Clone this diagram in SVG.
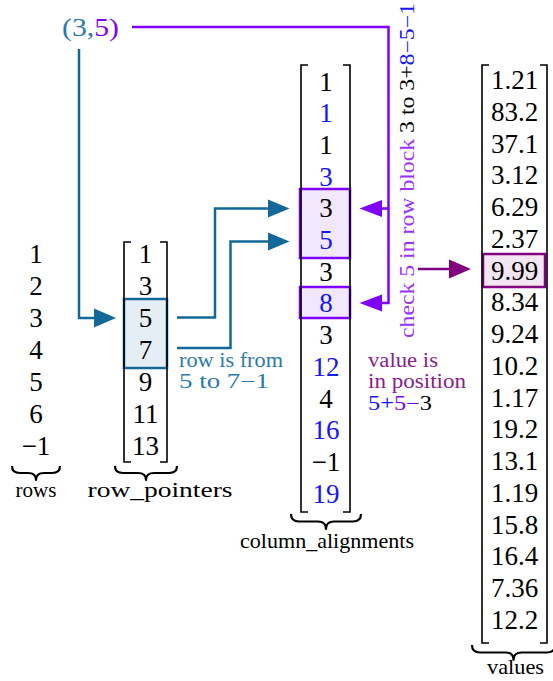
<svg xmlns="http://www.w3.org/2000/svg" width="553" height="681" viewBox="0 0 553 681" font-family="'Liberation Serif', 'DejaVu Serif', 'Noto Serif', serif">
<style>
text{font-family:'Liberation Serif','DejaVu Serif',serif}
.n{font-size:27px;text-anchor:middle;fill:#000}
.b{fill:#1414ff}
.lab{font-size:21px;text-anchor:middle;fill:#000}
.ann{font-size:20px}
.br{fill:none;stroke:#000;stroke-width:1.6}
.brace{fill:none;stroke:#000;stroke-width:2.2;stroke-linejoin:round}
.teal{fill:none;stroke:#136899;stroke-width:2.5}
.vio{fill:none;stroke:#8000ff;stroke-width:2.5}
.pur{fill:none;stroke:#800080;stroke-width:2.5}
</style>
<rect width="553" height="681" fill="#fff"/>

<g id="pair">
<text x="62" y="36" font-size="26px" textLength="57" lengthAdjust="spacingAndGlyphs"><tspan fill="#2a7aaa">(3,</tspan><tspan fill="#8000ff">5)</tspan></text>
</g>

<g id="rows">
<text class="n" x="36" y="263">1</text>
<text class="n" x="36" y="295">2</text>
<text class="n" x="36" y="327">3</text>
<text class="n" x="36" y="359">4</text>
<text class="n" x="36" y="391">5</text>
<text class="n" x="36" y="423">6</text>
<text class="n" x="36" y="455">−1</text>
<path class="brace" d="M12,466 Q12,473 20,473 L28,473 Q36,473 36,480 Q36,473 44,473 L52,473 Q60,473 60,466"/>
<text class="lab" x="36" y="497" textLength="41" lengthAdjust="spacingAndGlyphs">rows</text>
</g>

<g id="row_pointers">
<rect x="124" y="299" width="43" height="69" fill="#e6eef5" stroke="#136899" stroke-width="2.5"/>
<path class="br" d="M131,242 H124 V462 H131 M160,242 H167 V462 H160"/>
<text class="n" x="145.5" y="263">1</text>
<text class="n" x="145.5" y="295">3</text>
<text class="n" x="145.5" y="327">5</text>
<text class="n" x="145.5" y="359">7</text>
<text class="n" x="145.5" y="391">9</text>
<text class="n" x="145.5" y="423">11</text>
<text class="n" x="145.5" y="455">13</text>
<path class="brace" d="M115,466 Q115,473 123,473 L138,473 Q146,473 146,480 Q146,473 154,473 L169,473 Q177,473 177,466"/>
<text class="lab" x="160" y="497" textLength="145" lengthAdjust="spacingAndGlyphs">row_pointers</text>
</g>

<g id="column_alignments">
<rect x="300" y="189" width="50" height="69" fill="#f2e8fd" stroke="#8000ff" stroke-width="2.5"/>
<rect x="300" y="287" width="50" height="31" fill="#f2e8fd" stroke="#8000ff" stroke-width="2.5"/>
<path class="br" d="M308,65 H301 V512 H308 M343,65 H350 V512 H343"/>
<text class="n" x="326" y="90.5">1</text>
<text class="n b" x="326" y="122.2">1</text>
<text class="n" x="326" y="153.9">1</text>
<text class="n b" x="326" y="185.6">3</text>
<text class="n" x="326" y="217.3">3</text>
<text class="n b" x="326" y="249">5</text>
<text class="n" x="326" y="280.7">3</text>
<text class="n b" x="326" y="312.4">8</text>
<text class="n" x="326" y="344.1">3</text>
<text class="n b" x="326" y="375.8">12</text>
<text class="n" x="326" y="407.5">4</text>
<text class="n b" x="326" y="439.2">16</text>
<text class="n" x="326" y="470.9">−1</text>
<text class="n b" x="326" y="502.6">19</text>
<path class="brace" d="M291,514 Q291,521.5 299,521.5 L318,521.5 Q326,521.5 326,529 Q326,521.5 334,521.5 L353,521.5 Q361,521.5 361,514"/>
<text class="lab" x="327" y="548" textLength="174" lengthAdjust="spacingAndGlyphs">column_alignments</text>
</g>

<g id="values">
<rect x="483" y="254" width="62" height="33" fill="#f3e6f3" stroke="#800080" stroke-width="2.5"/>
<path class="br" d="M489,65 H482 V643 H489 M540,65 H547 V643 H540"/>
<text class="n" x="514.5" y="89">1.21</text>
<text class="n" x="514.5" y="120.8">83.2</text>
<text class="n" x="514.5" y="152.5">37.1</text>
<text class="n" x="514.5" y="184.3">3.12</text>
<text class="n" x="514.5" y="216">6.29</text>
<text class="n" x="514.5" y="247.8">2.37</text>
<text class="n" x="514.5" y="279.6">9.99</text>
<text class="n" x="514.5" y="311.3">8.34</text>
<text class="n" x="514.5" y="343.1">9.24</text>
<text class="n" x="514.5" y="374.8">10.2</text>
<text class="n" x="514.5" y="406.6">1.17</text>
<text class="n" x="514.5" y="438.4">19.2</text>
<text class="n" x="514.5" y="470.1">13.1</text>
<text class="n" x="514.5" y="501.9">1.19</text>
<text class="n" x="514.5" y="533.6">15.8</text>
<text class="n" x="514.5" y="565.4">16.4</text>
<text class="n" x="514.5" y="597.2">7.36</text>
<text class="n" x="514.5" y="628.9">12.2</text>
<path class="brace" d="M472,645 Q472,652.5 480,652.5 L505.5,652.5 Q513.5,652.5 513.5,660 Q513.5,652.5 521.5,652.5 L547,652.5 Q555,652.5 555,645"/>
<text class="lab" x="515.5" y="674" textLength="57" lengthAdjust="spacingAndGlyphs">values</text>
</g>

<g id="connectors">
<path class="teal" d="M79,49 V318 H96"/>
<polygon points="94,308.5 116,318 94,327.5" fill="#136899"/>
<path class="teal" d="M177,317.5 H215 V208.5 H270"/>
<polygon points="268,199.5 289.5,208.5 268,217.5" fill="#136899"/>
<path class="teal" d="M177,348 H230.5 V241.5 H270"/>
<polygon points="268,232.5 289.5,241.5 268,250.5" fill="#136899"/>
<path class="vio" d="M132,27 H388.5 V303 H380 M388.5,208.5 H380"/>
<polygon points="382,200 359.5,208.5 382,217" fill="#8000ff"/>
<polygon points="382,294.5 359.5,303 382,311.5" fill="#8000ff"/>
<path class="pur" d="M418,269 H451"/>
<polygon points="449,259.5 471,269 449,278.5" fill="#800080"/>
</g>

<g id="annotations">
<text class="ann" fill="#2a7aaa" x="179" y="367" textLength="104" lengthAdjust="spacingAndGlyphs">row is from</text>
<text class="ann" fill="#2a7aaa" x="179" y="388" textLength="90" lengthAdjust="spacingAndGlyphs">5 to 7−1</text>
<text class="ann" fill="#8c1c8c" x="368" y="367" textLength="70" lengthAdjust="spacingAndGlyphs">value is</text>
<text class="ann" fill="#8c1c8c" x="368" y="388" textLength="98" lengthAdjust="spacingAndGlyphs">in position</text>
<text class="ann" x="368" y="410" textLength="64" lengthAdjust="spacingAndGlyphs"><tspan fill="#1414ff">5+</tspan><tspan fill="#8000ff">5−</tspan><tspan fill="#000">3</tspan></text>
<text class="ann" transform="translate(413.5,338) rotate(-90)" textLength="335" lengthAdjust="spacingAndGlyphs"><tspan fill="#9933ff">check 5 in row block </tspan><tspan fill="#000">3 to 3+</tspan><tspan fill="#1414ff">8−5−1</tspan></text>
</g>
</svg>
